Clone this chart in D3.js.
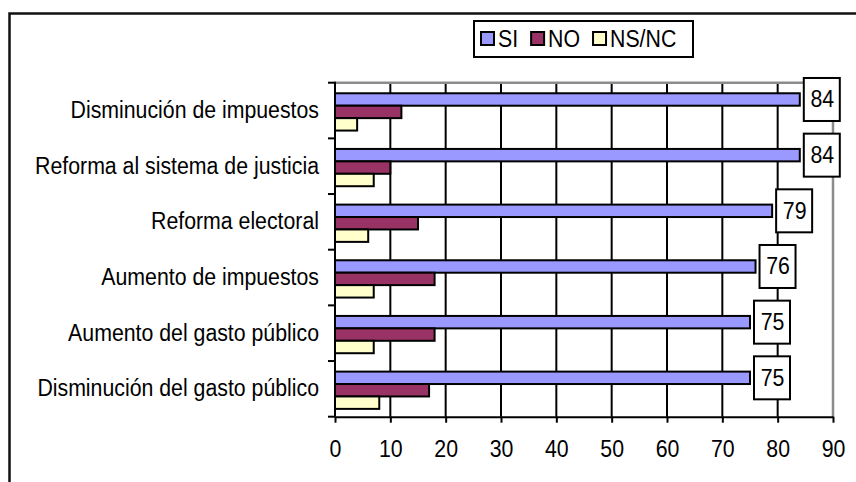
<!DOCTYPE html>
<html>
<head>
<meta charset="utf-8">
<script src="https://cdn.jsdelivr.net/npm/d3@7"></script>
<style>
  body { margin: 0; background: #fff; }
  svg text { font-family: "Liberation Sans", Arial, sans-serif; fill: #000; }
</style>
</head>
<body>
<div class="chart"></div>
<script>
const categories = [
  "Disminución de impuestos",
  "Reforma al sistema de justicia",
  "Reforma electoral",
  "Aumento de impuestos",
  "Aumento del gasto público",
  "Disminución del gasto público",
];
const series = ["SI", "NO", "NS/NC"];
const siValues = [84, 84, 79, 76, 75, 75];
const noValues = [12, 10, 15, 18, 18, 17];
const nsncValues = [4, 7, 6, 7, 7, 8];
const xTicks = [0, 10, 20, 30, 40, 50, 60, 70, 80, 90];

const colors = { SI: "#9999ff", NO: "#993366", "NS/NC": "#ffffcc" };

// rows built from the arrays above
const rows = categories.map((c, i) => ({
  cat: c,
  vals: [
    { key: "SI", v: siValues[i] },
    { key: "NO", v: noValues[i] },
    { key: "NS/NC", v: nsncValues[i] },
  ],
}));

const width = 856;
const height = 482;
const plot = { left: 335, right: 833, top: 82.7, bottom: 416.7 };
const fontSize = 21.3;
const stretch = 1.1; // the original text is a bit taller than wide

const svg = d3.select(".chart").append("svg")
  .attr("width", width)
  .attr("height", height);

svg.append("rect").attr("width", width).attr("height", height).attr("fill", "#fff");

// place a text at (tx, ty) with a small vertical stretch
function putText(sel, tx, ty) {
  return sel
    .attr("transform", (d, i) => `translate(${tx(d, i)},${ty(d, i)}) scale(1,${stretch})`)
    .style("font-size", fontSize + "px");
}

// outer frame (right and bottom edges fall outside the picture)
svg.append("rect")
  .attr("x", 9.5).attr("y", 13.5)
  .attr("width", 900).attr("height", 500)
  .attr("fill", "none").attr("stroke", "#111").attr("stroke-width", 2.5);

const x = d3.scaleLinear().domain([0, 90]).range([plot.left, plot.right]);
const y = d3.scaleBand().domain(categories).range([plot.top, plot.bottom]);
const y1 = d3.scaleBand().domain(series).range([0, y.bandwidth()])
  .paddingOuter(0.74).align(0.575);

// gridlines
svg.append("g").selectAll("line")
  .data(xTicks.filter((t) => t > 0 && t < 90))
  .enter().append("line")
  .attr("x1", (d) => x(d)).attr("x2", (d) => x(d))
  .attr("y1", plot.top).attr("y2", plot.bottom)
  .attr("stroke", "#000").attr("stroke-width", 2);

// gray plot border top and right
svg.append("path")
  .attr("d", `M${plot.left},${plot.top}H${x(90)}V${plot.bottom}`)
  .attr("fill", "none").attr("stroke", "#8c8c8c").attr("stroke-width", 2.5);

// bars
const groups = svg.append("g").selectAll("g")
  .data(rows).enter().append("g")
  .attr("transform", (d) => `translate(0,${y(d.cat)})`);

groups.selectAll("rect")
  .data((d) => d.vals).enter().append("rect")
  .attr("x", x(0))
  .attr("y", (d) => y1(d.key))
  .attr("width", (d) => x(d.v) - x(0))
  .attr("height", y1.bandwidth())
  .attr("fill", (d) => colors[d.key])
  .attr("stroke", "#000").attr("stroke-width", 2);

// left axis with ticks on band edges
const yEdges = categories.map((c) => y(c)).concat([plot.bottom]);
svg.append("line")
  .attr("x1", plot.left).attr("x2", plot.left)
  .attr("y1", plot.top - 1).attr("y2", plot.bottom)
  .attr("stroke", "#000").attr("stroke-width", 2);
svg.append("g").selectAll("line")
  .data(yEdges).enter().append("line")
  .attr("x1", plot.left - 7).attr("x2", plot.left)
  .attr("y1", (d) => d).attr("y2", (d) => d)
  .attr("stroke", "#000").attr("stroke-width", 2);

putText(
  svg.append("g").selectAll("text").data(categories).enter().append("text"),
  () => 319,
  (d) => y(d) + y.bandwidth() / 2 + 7.3
)
  .attr("text-anchor", "end")
  .text((d) => d);

// bottom axis
const xAxis = svg.append("g")
  .attr("transform", `translate(0,${plot.bottom})`)
  .call(d3.axisBottom(x).tickValues(xTicks).tickSize(6).tickPadding(17).tickSizeOuter(0));
xAxis.select(".domain").attr("stroke", "#000").attr("stroke-width", 2);
xAxis.selectAll(".tick line").attr("stroke", "#000").attr("stroke-width", 2);
xAxis.selectAll(".tick text")
  .attr("y", null).attr("dy", null)
  .attr("transform", `translate(0,40.5) scale(1,${stretch})`)
  .style("font-size", fontSize + "px")
  .style("font-family", '"Liberation Sans", Arial, sans-serif')
  .attr("fill", "#000");

// value labels for SI
const boxW = 36, boxH = 43;
const lab = svg.append("g").selectAll("g")
  .data(rows).enter().append("g")
  .attr("transform", (d) => {
    const cy = y(d.cat) + y1("SI") + y1.bandwidth() / 2;
    return `translate(${x(d.vals[0].v) + 4},${cy - boxH / 2})`;
  });
lab.append("rect")
  .attr("width", boxW).attr("height", boxH)
  .attr("fill", "#fff").attr("stroke", "#000").attr("stroke-width", 2);
putText(lab.append("text"), () => boxW / 2 + 0.5, () => boxH / 2 + 8)
  .attr("text-anchor", "middle")
  .text((d) => d.vals[0].v);

// legend
const legend = svg.append("g");
legend.append("rect")
  .attr("x", 474).attr("y", 21).attr("width", 219).attr("height", 36)
  .attr("fill", "#fff").attr("stroke", "#000").attr("stroke-width", 2);
let lx = 481;
series.forEach((s) => {
  legend.append("rect")
    .attr("x", lx).attr("y", 32).attr("width", 13).attr("height", 13)
    .attr("fill", colors[s]).attr("stroke", "#000").attr("stroke-width", 2);
  const t = putText(legend.append("text"), () => lx + 17, () => 46.5).text(s);
  lx += 17 + t.node().getComputedTextLength() + 13;
});
</script>
</body>
</html>
